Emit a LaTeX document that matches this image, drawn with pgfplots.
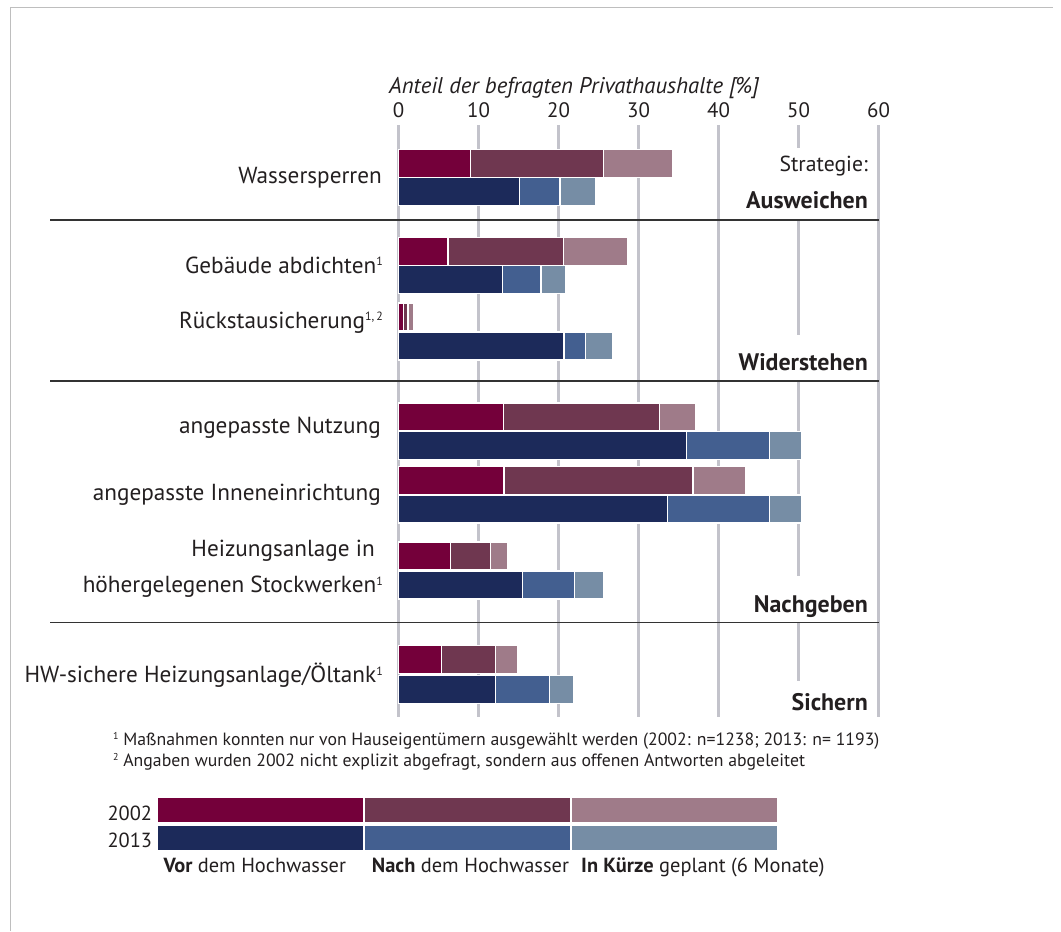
\documentclass[border=0pt]{standalone}
\usepackage{pgfplots}
\usepackage{pgfplotstable}
\pgfplotsset{compat=1.18}
\usepackage{fontspec}
\setmainfont{PT Sans}
\definecolor{avor}{RGB}{116,0,58}
\definecolor{anach}{RGB}{111,55,80}
\definecolor{aplan}{RGB}{159,123,137}
\definecolor{bvor}{RGB}{28,42,90}
\definecolor{bnach}{RGB}{67,95,144}
\definecolor{bplan}{RGB}{118,141,165}
\definecolor{gridgray}{RGB}{195,195,203}
\definecolor{sepgray}{RGB}{51,51,51}
\definecolor{framegray}{RGB}{190,190,190}
\definecolor{txt}{RGB}{35,31,32}
\newcommand{\fs}[1]{\fontsize{#1}{#1}\selectfont}
\newcommand{\hoch}[1]{\raisebox{7.5bp}{\fs{12}#1}}
\newcommand{\hochf}[1]{\raisebox{5.5bp}{\fs{10}#1}}
% pos = vertical position of the bar (px from top), segment values in %
\pgfplotstableread{
pos vor nach plan
163.3 9.0 16.6 8.7
251.5 6.2 14.4 8.1
317 0.6 0.6 0.65
417 13.1 19.5 4.5
480.7 13.2 23.6 6.6
556 6.5 5.0 2.1
659.3 5.4 6.7 2.8
}\datazwei
\pgfplotstableread{
pos vor nach plan
191.7 15.1 5.1 4.5
279.5 13.0 4.8 3.1
346 20.7 2.7 3.4
445.5 36.0 10.4 4.0
509 33.6 12.8 4.0
585 15.5 6.5 3.6
689.3 12.1 6.8 3.0
}\datadrei
\begin{document}
\begin{tikzpicture}[x=1bp,y=-1bp]
\path (0,0) rectangle (1061,931);
\draw[framegray, line width=1bp] (10,931) -- (10,7) -- (1053,7);
\begin{axis}[
  at={(398.5bp,-125bp)}, anchor=north west,
  scale only axis, width=480bp, height=592bp,
  xmin=0, xmax=60, ymin=125, ymax=717, y dir=reverse,
  axis line style={draw=none},
  xtick={0,10,...,60}, ytick=\empty,
  major tick length=0pt,
  xticklabel pos=upper,
  xticklabel style={font=\fs{21}, text=txt, anchor=base, yshift=8bp},
  /pgf/number format/assume math mode=true,
  xmajorgrids, grid style={gridgray, line width=3bp},
  xbar, bar shift=0pt, bar width=28,
  every axis plot/.append style={draw=white, line width=1.5bp},
  clip=false,
]
\addplot[fill=aplan] table[y=pos, x expr=\thisrow{vor}+\thisrow{nach}+\thisrow{plan}] {\datazwei};
\addplot[fill=anach] table[y=pos, x expr=\thisrow{vor}+\thisrow{nach}] {\datazwei};
\addplot[fill=avor] table[y=pos, x=vor] {\datazwei};
\addplot[fill=bplan] table[y=pos, x expr=\thisrow{vor}+\thisrow{nach}+\thisrow{plan}] {\datadrei};
\addplot[fill=bnach] table[y=pos, x expr=\thisrow{vor}+\thisrow{nach}] {\datadrei};
\addplot[fill=bvor] table[y=pos, x=vor] {\datadrei};
\end{axis}
% white gaps in the grid behind strategy labels
\fill[white] (740,148) rectangle (871,219);
\fill[white] (740,335) rectangle (871,381);
\fill[white] (740,576) rectangle (871,622);
\fill[white] (740,681) rectangle (871,718);
% separators
\draw[sepgray, line width=1.5bp] (50,220) -- (879,220);
\draw[sepgray, line width=1.5bp] (50,381) -- (879,381);
\draw[sepgray, line width=1.5bp] (50,622.5) -- (879,622.5);
% axis title
\node[anchor=base west, font=\fs{22.8}\itshape, text=txt, inner sep=0] at (389,93) {Anteil der befragten Privathaushalte [\%]};
% category labels
\begin{scope}[every node/.style={anchor=base east, font=\fs{23.3}, text=txt, inner sep=0}]
\node at (382,183.3) {Wassersperren};
\node at (383,273.3) {Gebäude abdichten\hoch{1}};
\node at (383,328) {Rückstausicherung\hoch{1,\,2}};
\node at (381,433) {angepasste Nutzung};
\node at (381,500) {angepasste Inneneinrichtung};
\node at (375,556) {Heizungsanlage in};
\node at (383,592.7) {höhergelegenen Stockwerken\hoch{1}};
\node at (383,682.7) {HW-sichere Heizungsanlage/Öltank\hoch{1}};
\end{scope}
% strategy labels
\begin{scope}[every node/.style={anchor=base east, font=\fs{21.8}, text=txt, inner sep=0}]
\node at (868,171.7) {Strategie:};
\node[font=\fs{24}\bfseries] at (868,208) {Ausweichen};
\node[font=\fs{24}\bfseries] at (868,370.7) {Widerstehen};
\node[font=\fs{24}\bfseries] at (868,612) {Nachgeben};
\node[font=\fs{24}\bfseries] at (868,710.7) {Sichern};
\end{scope}
% footnotes
\begin{scope}[every node/.style={anchor=base west, font=\fs{17.8}, text=txt, inner sep=0}]
\node at (113,745) {\hochf{1} Maßnahmen konnten nur von Hauseigentümern ausgewählt werden (2002: n=1238; 2013: n= 1193)};
\node at (113,766) {\hochf{2} Angaben wurden 2002 nicht explizit abgefragt, sondern aus offenen Antworten abgeleitet};
\end{scope}
% legend
\fill[avor] (158.3,797.7) rectangle (363.3,821.7);
\fill[anach] (365,797.7) rectangle (570,821.7);
\fill[aplan] (571.7,797.7) rectangle (776.7,821.7);
\fill[bvor] (158.3,826) rectangle (363.3,850);
\fill[bnach] (365,826) rectangle (570,850);
\fill[bplan] (571.7,826) rectangle (776.7,850);
\begin{scope}[every node/.style={font=\fs{20.5}, text=txt, inner sep=0}]
\node[anchor=base east] at (152.3,820) {2002};
\node[anchor=base east] at (152.3,847.7) {2013};
\node[anchor=base west] at (163.3,872) {\bfseries Vor\mdseries{} dem Hochwasser};
\node[anchor=base west] at (371.7,872) {\bfseries Nach\mdseries{} dem Hochwasser};
\node[anchor=base west] at (581,872) {\bfseries In Kürze\mdseries{} geplant (6 Monate)};
\end{scope}
\end{tikzpicture}
\end{document}
